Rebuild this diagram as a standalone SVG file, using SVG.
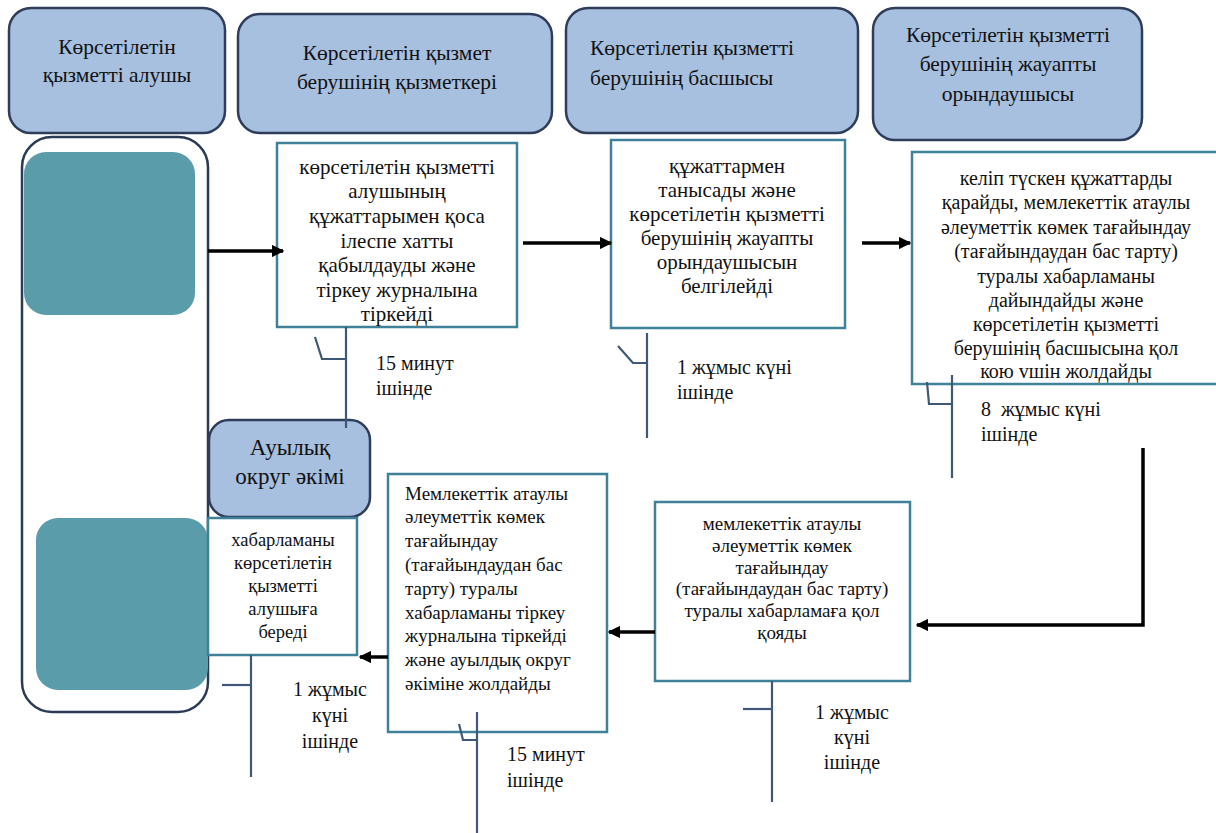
<svg xmlns="http://www.w3.org/2000/svg" width="1216" height="833" viewBox="0 0 1216 833">
<defs>
<style>
.hdr{fill:#A8C0DF;stroke:#2E3D5A;stroke-width:2.5}
.lane{fill:#FFFFFF;stroke:#2B3A55;stroke-width:2.5}
.teal{fill:#5B9CAB;stroke:none}
.box{fill:#FFFFFF;stroke:#3E8199;stroke-width:2.5}
.br{fill:none;stroke:#3F5878;stroke-width:2.2}
.arr{fill:none;stroke:#000000;stroke-width:3.5}
text{font-family:"Liberation Serif","Liberation Sans",Arial,sans-serif;fill:#111111}
.h{font-size:21.5px}
.h5{font-size:23px}
.tA{font-size:21px}
.tC{font-size:20px}
.tD{font-size:19px}
.tF{font-size:18.5px}
.lbl{font-size:20px}
.c{text-anchor:middle}
</style>
<marker id="ah" viewBox="0 0 10 10" refX="9" refY="5" markerWidth="3.6" markerHeight="3.6" markerUnits="strokeWidth" orient="auto">
<path d="M0,0 L10,5 L0,10 z" fill="#000000"/>
</marker>
</defs>
<rect width="1216" height="833" fill="#FFFFFF"/>

<g id="lane-recipient">
<rect class="lane" x="22" y="137" width="186" height="575" rx="30"/>
<rect class="teal" x="24" y="152" width="171" height="163" rx="22"/>
<rect class="teal" x="36" y="518" width="172" height="172" rx="22"/>
</g>

<g id="h1">
<rect class="hdr" x="9" y="8" width="216" height="125" rx="22"/>
<text class="h c" x="117" y="54">Көрсетілетін</text>
<text class="h c" x="117" y="82">қызметті алушы</text>
</g>
<g id="h2">
<rect class="hdr" x="238" y="14" width="314" height="119" rx="22"/>
<text class="h c" x="397" y="60">Көрсетілетін қызмет</text>
<text class="h c" x="397" y="89">берушінің қызметкері</text>
</g>
<g id="h3">
<rect class="hdr" x="566" y="8" width="292" height="125" rx="22"/>
<text class="h" x="590" y="55">Көрсетілетін қызметті</text>
<text class="h" x="590" y="85">берушінің басшысы</text>
</g>
<g id="h4">
<rect class="hdr" x="873" y="8" width="269" height="132" rx="22"/>
<text class="h c" x="1008" y="42">Көрсетілетін қызметті</text>
<text class="h c" x="1008" y="71">берушінің жауапты</text>
<text class="h c" x="1008" y="101">орындаушысы</text>
</g>
<g id="h5">
<rect class="hdr" x="209" y="420" width="161" height="97" rx="20"/>
<text class="h5 c" x="290" y="455">Ауылық</text>
<text class="h5 c" x="290" y="484">округ әкімі</text>
</g>

<g id="boxA">
<rect class="box" x="277" y="143" width="240" height="184"/>
<text class="tA c" x="397" y="174">көрсетілетін қызметті</text>
<text class="tA c" x="397" y="198">алушының</text>
<text class="tA c" x="397" y="223">құжаттарымен қоса</text>
<text class="tA c" x="397" y="248">ілеспе хатты</text>
<text class="tA c" x="397" y="272">қабылдауды және</text>
<text class="tA c" x="397" y="297">тіркеу журналына</text>
<text class="tA c" x="397" y="321">тіркейді</text>
</g>
<g id="boxB">
<rect class="box" x="611" y="140" width="234" height="188"/>
<text class="tA c" x="727" y="173">құжаттармен</text>
<text class="tA c" x="727" y="197">танысады және</text>
<text class="tA c" x="727" y="221">көрсетілетін қызметті</text>
<text class="tA c" x="727" y="245">берушінің жауапты</text>
<text class="tA c" x="727" y="269">орындаушысын</text>
<text class="tA c" x="727" y="293">белгілейді</text>
</g>
<g id="boxC">
<rect class="box" x="912" y="152" width="312" height="232"/>
<text class="tC c" x="1066" y="185">келіп түскен құжаттарды</text>
<text class="tC c" x="1066" y="209">қарайды, мемлекеттік атаулы</text>
<text class="tC c" x="1066" y="234">әлеуметтік көмек тағайындау</text>
<text class="tC c" x="1066" y="258">(тағайындаудан бас тарту)</text>
<text class="tC c" x="1066" y="283">туралы хабарламаны</text>
<text class="tC c" x="1066" y="307">дайындайды және</text>
<text class="tC c" x="1066" y="331">көрсетілетін қызметті</text>
<text class="tC c" x="1066" y="355">берушінің басшысына қол</text>
<text class="tC c" x="1066" y="378">кою vшін жолдайды</text>
</g>
<g id="boxD">
<rect class="box" x="655" y="502" width="255" height="179"/>
<text class="tD c" x="782" y="530">мемлекеттік атаулы</text>
<text class="tD c" x="782" y="552">әлеуметтік көмек</text>
<text class="tD c" x="782" y="574">тағайындау</text>
<text class="tD c" x="782" y="595">(тағайындаудан бас тарту)</text>
<text class="tD c" x="782" y="617">туралы хабарламаға қол</text>
<text class="tD c" x="782" y="639">қояды</text>
</g>
<g id="boxE">
<rect class="box" x="388" y="474" width="219" height="258"/>
<text class="tD" x="405" y="500">Мемлекеттік атаулы</text>
<text class="tD" x="405" y="523">әлеуметтік көмек</text>
<text class="tD" x="405" y="547">тағайындау</text>
<text class="tD" x="405" y="571">(тағайындаудан бас</text>
<text class="tD" x="405" y="595">тарту) туралы</text>
<text class="tD" x="405" y="619">хабарламаны тіркеу</text>
<text class="tD" x="405" y="642">журналына тіркейді</text>
<text class="tD" x="405" y="666">және ауылдық округ</text>
<text class="tD" x="405" y="690">әкіміне жолдайды</text>
</g>
<g id="boxF">
<rect class="box" x="208" y="518" width="149" height="137"/>
<text class="tF c" x="283" y="546">хабарламаны</text>
<text class="tF c" x="283" y="569">көрсетілетін</text>
<text class="tF c" x="283" y="592">қызметті</text>
<text class="tF c" x="283" y="615">алушыға</text>
<text class="tF c" x="283" y="638">береді</text>
</g>

<g id="connectors">
<line class="arr" x1="208" y1="251" x2="283" y2="251" marker-end="url(#ah)"/>
<line class="arr" x1="523" y1="243" x2="611" y2="243" marker-end="url(#ah)"/>
<line class="arr" x1="862" y1="243" x2="910" y2="243" marker-end="url(#ah)"/>
<polyline class="arr" points="1143,448 1143,625 917,625" marker-end="url(#ah)"/>
<line class="arr" x1="655" y1="632" x2="609" y2="632" marker-end="url(#ah)"/>
<line class="arr" x1="388" y1="657" x2="360" y2="657" marker-end="url(#ah)"/>
</g>

<g id="time-brackets">
<line class="br" x1="346" y1="327" x2="346" y2="428"/>
<polyline class="br" points="315,337 322,359 346,359"/>
<line class="br" x1="647" y1="333" x2="647" y2="438"/>
<polyline class="br" points="618,346 633,363 647,363"/>
<line class="br" x1="952" y1="375" x2="952" y2="478"/>
<polyline class="br" points="927,382 929,404 952,404"/>
<line class="br" x1="251" y1="655" x2="251" y2="777"/>
<line class="br" x1="222" y1="685" x2="251" y2="685"/>
<line class="br" x1="477" y1="712" x2="477" y2="833"/>
<polyline class="br" points="459,724 463,740 477,740"/>
<line class="br" x1="772" y1="681" x2="772" y2="802"/>
<line class="br" x1="743" y1="709" x2="772" y2="709"/>
</g>

<g id="time-labels">
<text class="lbl" x="376" y="370">15 минут</text>
<text class="lbl" x="376" y="395">ішінде</text>
<text class="lbl" x="677" y="374">1 жұмыс күні</text>
<text class="lbl" x="677" y="399">ішінде</text>
<text class="lbl" x="981" y="416" xml:space="preserve">8  жұмыс күні</text>
<text class="lbl" x="981" y="441">ішінде</text>
<text class="lbl c" x="330" y="696">1 жұмыс</text>
<text class="lbl c" x="330" y="722">күні</text>
<text class="lbl c" x="330" y="748">ішінде</text>
<text class="lbl" x="507" y="761">15 минут</text>
<text class="lbl" x="507" y="787">ішінде</text>
<text class="lbl c" x="852" y="719">1 жұмыс</text>
<text class="lbl c" x="852" y="744">күні</text>
<text class="lbl c" x="852" y="769">ішінде</text>
</g>
</svg>
